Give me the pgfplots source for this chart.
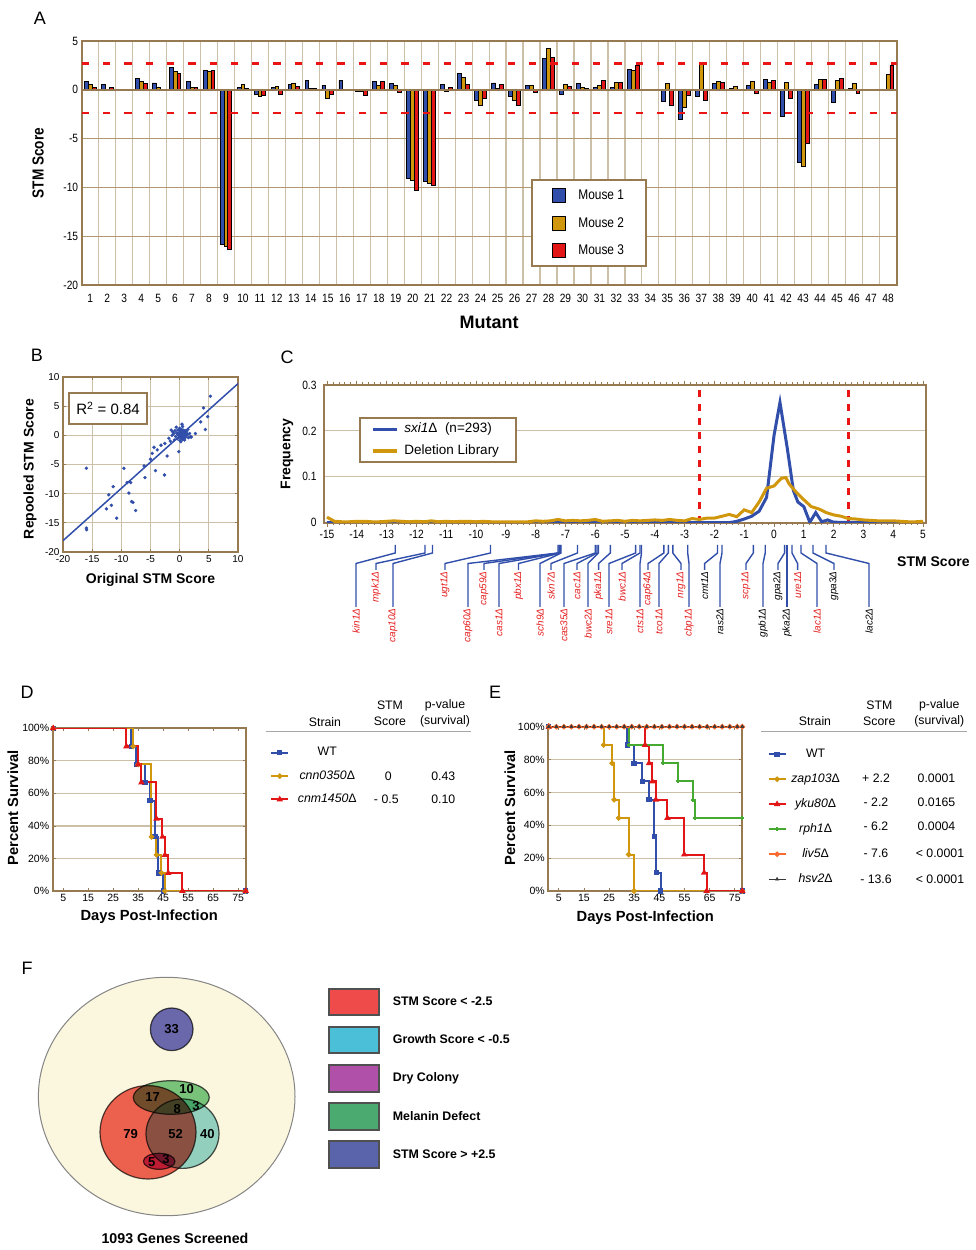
\documentclass[border=0pt]{standalone}
\usepackage{fontspec}
\setmainfont{Liberation Sans}
\newfontfamily\narrow[FakeStretch=0.85]{Liberation Sans}
\usepackage{pgfplots}
\usepackage{pgfplotstable}
\pgfplotsset{compat=1.18}

\newcommand\fs[1]{\fontsize{#1}{#1}\selectfont}

\definecolor{frameb}{RGB}{152,122,82}
\definecolor{gridt}{RGB}{205,192,168}
\definecolor{gridb}{RGB}{178,152,112}
\definecolor{mblue}{RGB}{48,78,170}
\definecolor{mgold}{RGB}{208,150,12}
\definecolor{mred}{RGB}{226,22,22}
\definecolor{dashred}{RGB}{235,20,20}
\definecolor{sgreen}{RGB}{70,170,50}
\definecolor{sorange}{RGB}{250,105,45}
\definecolor{sblack}{RGB}{55,55,55}
\definecolor{glred}{RGB}{228,30,30}
\definecolor{vcream}{RGB}{251,246,222}
\definecolor{vpurple}{RGB}{108,108,196}
\definecolor{vred}{RGB}{240,100,90}
\definecolor{vcyan}{RGB}{150,215,218}
\definecolor{vgreen}{RGB}{122,203,140}
\definecolor{vmag}{RGB}{205,75,165}
\definecolor{vedge}{RGB}{80,80,80}
\definecolor{legred}{RGB}{239,75,75}
\definecolor{legcyan}{RGB}{75,190,216}
\definecolor{legmag}{RGB}{176,80,168}
\definecolor{leggreen}{RGB}{74,170,112}
\definecolor{legpurple}{RGB}{90,100,170}

\pgfplotsset{
  panel/.style={scale only axis, anchor=north west,
    axis line style={frameb, line width=2pt},
    /pgf/number format/assume math mode=true,
    tick style={frameb, line width=0.8pt},
    grid style={gridt, line width=1.2pt}},
  barleg/.style={legend image code/.code={\draw[##1] (0pt,-7pt) rectangle (13.5pt,7pt);}},
}

% panel A: STM scores of 48 mutants in three mice
\pgfplotstableread{
m   a      b      c
1   0.85   0.50   0.27
2   0.50   0.05   0.20
3   0      0      0
4   1.13   0.85   0.60
5   0.70   0.27  -0.10
6   2.30   1.90   1.65
7   0.90   0.27   0.20
8   2.00   1.90   1.95
9  -15.8  -16.1  -16.4
10  0.27   0.50   0.15
11 -0.50  -0.70  -0.60
12  0.20   0.35  -0.45
13  0.55   0.70   0.37
14  1.00   0.17   0.17
15  0.45  -0.90  -0.50
16  1.00  -0.05  -0.10
17 -0.20  -0.20  -0.60
18  0.90   0.45   0.90
19  0.60   0.45  -0.25
20 -9.10  -9.30 -10.30
21 -9.40  -9.60  -9.80
22  0.50  -0.15   0.27
23  1.70   1.25   0.55
24 -1.10  -1.60  -0.85
25  0.70   0.17   0.50
26 -0.70  -1.10  -1.60
27  0.45   0.45  -0.25
28  3.25   4.20   3.35
29 -0.50   0.50   0.35
30  0.60   0.20   0.10
31  0.27   0.45   0.95
32  0.20   0.72   0.72
33  2.05   2.00   2.46
34  0      0      0
35 -1.16   0.60  -1.57
36 -3.05  -1.80  -0.55
37 -0.72   2.56  -1.13
38  0.68   0.89   0.79
39  0.10   0.38   0
40  0.44   0.89  -0.34
41  1.03   0.75   1.00
42 -2.77   0.79  -0.89
43 -7.45  -7.83  -5.50
44  0.58   1.06   1.09
45 -1.33   0.96   1.13
46  0.14   0.62  -0.38
47  0      0      0
48  0.07   1.54   2.53
}\stmA

% panel B: original vs repooled scores
\pgfplotstableread{
x y
5.27 6.7
4.1 4.7
4.8 3.2
3.6 2.3
4.4 1.0
2.7 0.3
1.85 -0.25
0.4 1.9
-0.15 -2.8
-2.15 -3.55
-2.6 -6.8
-4.4 -2.05
-3.85 -2.5
-3.2 -1.7
-2.55 -1.4
-1.85 -0.5
-1.6 -1.0
-1.3 0
-1.45 0.9
-4.7 -3.1
-5.0 -4.1
-6.1 -5.25
-5.95 -7.25
-4.15 -6.05
-9.55 -5.65
-9.0 -8.1
-8.4 -8.1
-8.7 -9.9
-8.25 -11.35
-8.0 -11.5
-7.55 -12.9
-11.4 -8.8
-12.15 -10.2
-11.7 -12.0
-12.55 -12.6
-10.8 -14.2
-16.0 -5.65
-16.0 -15.9
-15.95 -16.2
-1.2 0.6
-1.0 0.3
-0.8 0.8
-0.7 -0.2
-0.5 0.4
-0.4 -0.6
-0.3 0.9
-0.2 0.1
-0.1 -0.3
0 0.5
0 1.2
0.1 -0.1
0.15 0.7
0.2 0.2
0.25 -0.5
0.3 1.0
0.35 0.4
0.4 -0.2
0.45 0.6
0.5 0.1
0.55 -0.7
0.6 0.9
0.65 0.3
0.7 -0.3
0.75 0.5
0.8 0.0
0.9 0.8
0.95 -0.4
1.0 0.3
1.1 -0.1
1.2 0.6
1.3 0.1
1.5 -0.4
1.7 0.3
2.0 -0.3
0.05 -0.9
-0.6 1.4
0.5 1.5
-0.9 -0.8
1.4 1.0
0.2 -1.1
-0.1 0.0
0.3 -0.05
0.6 0.45
-0.35 0.25
0.85 -0.8
0.0 0.8
}\repool

% gene label with connector below panel C: top x, label x, end y, colour, name
\newcommand\gl[5]{%
  \draw[mblue, line width=1.4pt] (#1,545) -- (#1,553) -- (#2,563.5) -- (#2,#3);
  \node[rotate=90, anchor=east, font=\itshape\fs{10}, text=#4, inner sep=1.2pt] at (#2,#3) {#5Δ};}

\begin{document}
\begin{tikzpicture}

% ---------------- A ----------------
\begin{axis}[panel, at={(81.7pt,1209pt)}, width=814.8pt, height=244pt,
  xmin=0.5, xmax=48.5, ymin=-20, ymax=5,
  ybar=0pt, bar width=0.23,
  xtick={1,...,48}, ytick={-20,-15,...,5},
  minor xtick={1.5,2.5,...,47.5}, xminorgrids,
  minor x grid style={gridt, line width=1.2pt},
  ymajorgrids, y grid style={gridb, line width=1.3pt},
  major tick length=0pt, minor tick length=0pt,
  tick label style={font=\narrow\fs{12}},
  xticklabel style={yshift=-6pt},
  xlabel={Mutant}, ylabel={STM Score},
  xlabel style={font=\bfseries\fs{18}, at={(axis description cs:0.5,-0.1516)}, anchor=center},
  ylabel style={font=\narrow\bfseries\fs{16}, at={(axis description cs:-0.0536,0.5)}, anchor=center},
  legend style={at={(0.5514,0.4332)}, anchor=north west, draw=frameb, line width=2pt,
    fill=white, font=\narrow\fs{14}, row sep=12pt, column sep=10pt,
    inner xsep=20pt, inner ysep=8pt},
  legend image code/.code={\draw[#1] (0pt,-7pt) rectangle (13.5pt,7pt);},
]
\addplot[fill=mblue, draw=black, line width=0.9pt, barleg] table[x=m, y=a] {\stmA};
\addplot[fill=mgold, draw=black, line width=0.9pt, barleg] table[x=m, y=b] {\stmA};
\addplot[fill=mred, draw=black, line width=0.9pt, barleg] table[x=m, y=c] {\stmA};
\legend{Mouse 1, Mouse 2, Mouse 3}
\draw[frameb, line width=2pt] (axis cs:0.5,0) -- (axis cs:48.5,0);
\draw[dashred, line width=2.2pt, dash pattern=on 7.3pt off 14pt] (axis cs:0.5,2.7) -- (axis cs:48.5,2.7);
\draw[dashred, line width=2.2pt, dash pattern=on 7.3pt off 14pt] (axis cs:0.5,-2.4) -- (axis cs:48.5,-2.4);
\end{axis}

% ---------------- B ----------------
\begin{axis}[panel, at={(63pt,873pt)}, width=175pt, height=175pt,
  xmin=-20, xmax=10, ymin=-20, ymax=10,
  xtick={-20,-15,...,10}, ytick={-20,-15,...,10},
  grid=major, major tick length=3pt,
  tick label style={font=\fs{10}},
  xlabel={Original STM Score}, ylabel={Repooled STM Score},
  xlabel style={font=\bfseries\fs{14}, at={(axis description cs:0.5,-0.16)}, anchor=center},
  ylabel style={font=\bfseries\fs{14}, at={(axis description cs:-0.189,0.474)}, anchor=center},
]
\addplot[only marks, mark=*, mark size=1.5pt, mblue] table {\repool};
\addplot[mblue, line width=1.5pt] coordinates {(-20,-18.06) (10,8.86)};
\node[draw=frameb, line width=2pt, fill=white, minimum width=78pt, minimum height=31pt,
  anchor=north west, font=\fs{15}, inner sep=0pt] at (axis cs:-19.14,7.43) {R\textsuperscript{2} = 0.84};
\end{axis}

% ---------------- C ----------------
\begin{axis}[panel, at={(324pt,865pt)}, width=602pt, height=137.7pt,
  xmin=-15.1, xmax=5.1, ymin=0, ymax=0.3,
  xtick={-15,...,5}, ytick={0,0.1,0.2,0.3}, yticklabels={0,0.1,0.2,0.3},
  minor x tick num=4, tick align=outside, major tick length=4pt, minor tick length=2.5pt,
  ytick style={draw=none},
  ymajorgrids,
  tick label style={font=\narrow\fs{12}},
  ylabel={Frequency},
  ylabel style={font=\bfseries\fs{14}, at={(axis description cs:-0.0615,0.499)}, anchor=center},
  legend style={at={(0.0581,0.7676)}, anchor=north west, draw=frameb, line width=2pt,
    fill=white, font=\fs{13.5}, inner xsep=11pt, inner ysep=5pt, row sep=8.5pt,
    nodes={inner xsep=6pt, inner ysep=0pt, text height=10pt, text depth=3pt}},
  legend cell align=left,
  legend image code/.code={\draw[#1, line width=3.5pt] (0pt,0pt) -- (24pt,0pt);},
]
\draw[dashred, line width=2.2pt, dash pattern=on 7pt off 7pt] (axis cs:-2.5,0) -- (axis cs:-2.5,0.3);
\draw[dashred, line width=2.2pt, dash pattern=on 7pt off 7pt] (axis cs:2.5,0) -- (axis cs:2.5,0.3);
\addplot[mblue, line width=3pt] table {
x y
-15 0
-1.5 0
-1.25 0.003
-1 0.008
-0.75 0.014
-0.5 0.025
-0.25 0.055
0 0.19
0.2 0.262
0.45 0.16
0.65 0.07
0.8 0.045
1 0.035
1.2 0.001
1.4 0.022
1.6 0.002
1.8 0.006
2 0.001
5 0
};
\addlegendentry{\textit{sxi1}Δ\ \ (n=293)}
\addplot[mgold, line width=3pt] table {
x y
-15 0.012
-14.75 0.003
-14.5 0.002
-14.25 0.002
-14 0.003
-13.75 0.003
-13.5 0.002
-13.25 0.002
-13 0.003
-12.75 0.004
-12.5 0.003
-12.25 0.002
-12 0.003
-11.75 0.002
-11.5 0.004
-11.25 0.002
-11 0.003
-10.75 0.002
-10.5 0.003
-10.25 0.003
-10 0.002
-9.75 0.003
-9.5 0.002
-9.25 0.002
-9 0.002
-8.75 0.002
-8.5 0.002
-8.25 0.002
-8 0.004
-7.75 0.003
-7.5 0.004
-7.25 0.007
-7 0.004
-6.75 0.005
-6.5 0.004
-6.25 0.005
-6 0.007
-5.75 0.003
-5.5 0.004
-5.25 0.005
-5 0.003
-4.75 0.005
-4.5 0.004
-4.25 0.005
-4 0.006
-3.75 0.005
-3.5 0.007
-3.25 0.005
-3 0.004
-2.75 0.009
-2.5 0.007
-2.25 0.010
-2 0.010
-1.75 0.014
-1.5 0.018
-1.25 0.013
-1 0.028
-0.75 0.022
-0.5 0.045
-0.25 0.075
0 0.080
0.25 0.097
0.4 0.098
0.5 0.085
0.75 0.066
1 0.050
1.25 0.035
1.5 0.030
1.75 0.022
2 0.017
2.25 0.014
2.5 0.009
2.75 0.008
3 0.006
3.25 0.005
3.5 0.004
3.75 0.004
4 0.004
4.25 0.003
4.5 0.002
4.75 0.002
5 0.003
};
\addlegendentry{Deletion Library}
\end{axis}

% ---------------- D ----------------
\begin{axis}[panel, at={(52.7pt,521.7pt)}, width=193pt, height=162.7pt,
  xmin=0.8, xmax=78, ymin=0, ymax=100,
  xtick={5,15,...,75}, ytick={0,20,...,100},
  yticklabels={0\%,20\%,40\%,60\%,80\%,100\%},
  ymajorgrids, major tick length=3pt,
  tick label style={font=\fs{10.5}},
  xlabel={Days Post-Infection}, ylabel={Percent Survival},
  xlabel style={font=\bfseries\fs{14.7}, at={(axis description cs:0.5,-0.16)}, anchor=center},
  ylabel style={font=\bfseries\fs{14.7}, at={(axis description cs:-0.206,0.51)}, anchor=center},
  legend style={at={(1.126,0.887)}, anchor=north west, draw=none, fill=none,
    font=\fs{12.3}, inner sep=0pt, row sep=11.3pt,
    nodes={inner sep=0pt, text height=9pt, text depth=3pt}},
  legend cell align=left,
]
\addplot[const plot, mblue, line width=2pt, mark=square*, mark size=1.6pt] coordinates {
(1,100) (32.3,88.9) (34.3,77.8) (37.7,66.7) (39.7,55.6) (41.7,33.3) (43,11.1) (45,0) (78,0)};
\addlegendentry{\makebox[76pt][c]{WT}}
\addplot[const plot, mgold, line width=2pt, mark=*, mark size=1.6pt] coordinates {
(1,100) (33,88.9) (35,77.8) (40.3,33.3) (42.3,22.2) (44.3,11.1) (45.7,0) (78,0)};
\addlegendentry{\makebox[76pt][c]{\textit{cnn0350}Δ}}
\addplot[const plot, mred, line width=2pt, mark=triangle*, mark size=1.8pt] coordinates {
(1,100) (30.3,88.9) (35,77.8) (36.3,66.7) (42.3,44.4) (44.7,33.3) (45.7,22.2) (47,11.1) (52.7,0) (78,0)};
\addlegendentry{\makebox[76pt][c]{\textit{cnm1450}Δ}}
\end{axis}

% ---------------- E ----------------
\begin{axis}[panel, at={(548.3pt,523.3pt)}, width=194pt, height=164.3pt,
  xmin=0.8, xmax=78, ymin=0, ymax=100,
  xtick={5,15,...,75}, ytick={0,20,...,100},
  yticklabels={0\%,20\%,40\%,60\%,80\%,100\%},
  ymajorgrids, major tick length=3pt,
  tick label style={font=\fs{10.5}},
  xlabel={Days Post-Infection}, ylabel={Percent Survival},
  xlabel style={font=\bfseries\fs{14.7}, at={(axis description cs:0.5,-0.165)}, anchor=center},
  ylabel style={font=\bfseries\fs{14.7}, at={(axis description cs:-0.198,0.505)}, anchor=center},
  legend style={at={(1.129,0.870)}, anchor=north west, draw=none, fill=none,
    font=\fs{12.3}, inner sep=0pt, row sep=13pt,
    nodes={inner sep=0pt, text height=9pt, text depth=3pt}},
  legend cell align=left,
]
\addplot[const plot, mblue, line width=2pt, mark=square*, mark size=1.6pt] coordinates {
(1,100) (32.2,88.9) (34.9,77.8) (38.2,66.7) (40.9,55.6) (42.9,33.3) (43.8,11.1) (45.6,0) (78,0)};
\addlegendentry{\makebox[58pt][c]{WT}}
\addplot[const plot, mgold, line width=2pt, mark=*, mark size=1.6pt] coordinates {
(1,100) (22.8,88.9) (26.2,77.8) (27,55.6) (28.8,44.4) (32.8,22.2) (34.9,0) (78,0)};
\addlegendentry{\makebox[58pt][c]{\textit{zap103}Δ}}
\addplot[const plot, mred, line width=2pt, mark=triangle*, mark size=1.8pt] coordinates {
(1,100) (39.3,88.9) (40.9,77.8) (42.2,66.7) (43.6,55.6) (48.2,44.4) (54.9,22.2) (62.8,11.1) (63.8,0) (78,0)};
\addlegendentry{\makebox[58pt][c]{\textit{yku80}Δ}}
\addplot[const plot, sgreen, line width=2pt, mark=+, mark size=2pt] coordinates {
(1,100) (33.1,88.9) (46.6,77.8) (52.3,66.7) (58.3,55.6) (59,44.4) (78,44.4)};
\addlegendentry{\makebox[58pt][c]{\textit{rph1}Δ}}
\addplot[const plot, sorange, line width=2pt, mark=*, mark size=1.6pt] coordinates {
(1,100) (4,100) (7,100) (10,100) (13,100) (16,100) (19,100) (22,100) (25,100) (28,100)
(31,100) (34,100) (37,100) (40,100) (43,100) (46,100) (49,100) (52,100) (55,100)
(58,100) (61,100) (64,100) (67,100) (70,100) (73,100) (76,100) (78,100)};
\addlegendentry{\makebox[58pt][c]{\textit{liv5}Δ}}
\addplot[const plot, sblack, line width=0.6pt, mark=triangle*, mark size=1.8pt] coordinates {
(1,100) (4,100) (7,100) (10,100) (13,100) (16,100) (19,100) (22,100) (25,100) (28,100)
(31,100) (34,100) (37,100) (40,100) (43,100) (46,100) (49,100) (52,100) (55,100)
(58,100) (61,100) (64,100) (67,100) (70,100) (73,100) (76,100) (78,100)};
\addlegendentry{\makebox[58pt][c]{\textit{hsv2}Δ}}
\end{axis}

% ---------------- F ----------------
\begin{axis}[at={(0pt,310pt)}, anchor=north west, scale only axis, width=975pt, height=310pt,
  xmin=0, xmax=975, ymin=940, ymax=1250, y dir=reverse, hide axis, clip=false,
  legend style={at={(0.3367,0.8474)}, anchor=north west, draw=none, fill=none,
    font=\bfseries\fs{12.4}, inner sep=0pt, row sep=9.6pt,
    nodes={inner xsep=12.7pt, inner ysep=0pt}},
  legend cell align=left,
  legend image code/.code={\draw[#1] (0pt,-13.3pt) rectangle (49.7pt,13.3pt);},
]
\addlegendimage{fill=legred, draw=vedge, line width=2pt}
\addlegendentry{STM Score < -2.5}
\addlegendimage{fill=legcyan, draw=vedge, line width=2pt}
\addlegendentry{Growth Score < -0.5}
\addlegendimage{fill=legmag, draw=vedge, line width=2pt}
\addlegendentry{Dry Colony}
\addlegendimage{fill=leggreen, draw=vedge, line width=2pt}
\addlegendentry{Melanin Defect}
\addlegendimage{fill=legpurple, draw=vedge, line width=2pt}
\addlegendentry{STM Score > +2.5}
\draw[vedge!70, line width=1pt, fill=vcream] (axis cs:166.7,1096.5) ellipse [x radius=128.3, y radius=119.2];
\draw[vedge, line width=1.2pt, fill=vpurple, blend mode=multiply] (axis cs:171.7,1029.3) ellipse [x radius=21.3, y radius=21.3];
\draw[vedge, line width=1.2pt, fill=vred, blend mode=multiply] (axis cs:148,1132.3) ellipse [x radius=48, y radius=46.7];
\draw[vedge, line width=1.2pt, fill=vcyan, blend mode=multiply] (axis cs:182.5,1133.7) ellipse [x radius=36.5, y radius=34.7];
\draw[vedge, line width=1.2pt, fill=vgreen, blend mode=multiply] (axis cs:171.3,1097.5) ellipse [x radius=38, y radius=16.8];
\draw[vedge, line width=1.2pt, fill=vmag, blend mode=multiply] (axis cs:159.2,1161.3) ellipse [x radius=15.8, y radius=8];
\begin{scope}[font=\bfseries\fs{13}]
\node at (axis cs:171.5,1029.5) {33};
\node at (axis cs:186.7,1089.3) {10};
\node at (axis cs:152.7,1097.3) {17};
\node at (axis cs:177.3,1109.3) {8};
\node at (axis cs:196,1106) {3};
\node at (axis cs:130.7,1134.3) {79};
\node at (axis cs:175.7,1134.3) {52};
\node at (axis cs:207.3,1134.3) {40};
\node at (axis cs:151.7,1161.7) {5};
\node at (axis cs:166,1159.3) {3};
\end{scope}
\end{axis}

% ---------------- annotations in pixel coordinates ----------------
\begin{scope}[x=1pt, y=-1pt, yshift=1250pt]
\node[font=\fs{18}] at (40,18) {A};
\node[font=\fs{18}] at (37,355) {B};
\node[font=\fs{18}] at (287,357) {C};
\node[font=\fs{18}] at (27,692) {D};
\node[font=\fs{18}] at (495,692) {E};
\node[font=\fs{18}] at (27,968) {F};

\node[font=\bfseries\fs{14}, anchor=west, inner sep=0pt] at (897,562) {STM Score};
\gl{395.2}{356}{607}{glred}{kin1}
\gl{425}{376}{570}{glred}{mpk1}
\gl{432.5}{393}{607}{glred}{cap10}
\gl{490.5}{445}{570}{glred}{ugt1}
\gl{558}{468}{607}{glred}{cap60}
\gl{559}{484}{570}{glred}{cap59}
\gl{559.6}{499}{607}{glred}{cas1}
\gl{560.5}{518.5}{570}{glred}{pbx1}
\gl{561}{540}{607}{glred}{sch9}
\gl{577.5}{551}{570}{glred}{skn7}
\gl{595.4}{564}{607}{glred}{cas35}
\gl{597}{577}{570}{glred}{cac1}
\gl{598.4}{588}{607}{glred}{bwc2}
\gl{610.3}{598.6}{570}{glred}{pka1}
\gl{635.6}{609}{607}{glred}{sre1}
\gl{640}{622}{570}{glred}{bwc1}
\gl{641.5}{640}{607}{glred}{cts1}
\gl{663.9}{648}{570}{glred}{cap64}
\gl{668.3}{659}{607}{glred}{tco1}
\gl{672.8}{681}{570}{glred}{nrg1}
\gl{687.7}{689}{607}{glred}{cbp1}
\gl{717.5}{704.6}{570}{black}{cmt1}
\gl{722}{720}{607}{black}{ras2}
\gl{753.3}{746}{570}{glred}{scp1}
\gl{765.2}{763}{607}{black}{gpb1}
\gl{784.6}{778}{570}{black}{gpa2}
\gl{787}{787}{607}{black}{pka2}
\gl{792}{797.6}{570}{glred}{ure1}
\gl{801}{817}{607}{glred}{lac1}
\gl{813}{834}{570}{black}{gpa3}
\gl{826}{869}{607}{black}{lac2}

% D table
\begin{scope}[font=\fs{12.3}]
\node at (325,721.7) {Strain};
\node at (390,705) {STM};
\node at (390,721.7) {Score};
\node at (445,705) {p-value};
\node at (445,721.7) {(survival)};
\node at (388.3,776.7) {0};
\node at (386.3,799.3) {- 0.5};
\node at (443.3,776.7) {0.43};
\node at (443.3,799.3) {0.10};
\end{scope}
\draw[gray!70, line width=1pt] (265.7,731.7) -- (470.7,731.7);

% E table
\begin{scope}[font=\fs{12.3}]
\node at (815,720.7) {Strain};
\node at (879.3,705) {STM};
\node at (879.3,721) {Score};
\node at (939.3,705) {p-value};
\node at (939.3,721) {(survival)};
\node at (876,778.3) {+ 2.2};
\node at (876,802.7) {- 2.2};
\node at (876,826.7) {- 6.2};
\node at (876,853.3) {- 7.6};
\node at (876,879.3) {- 13.6};
\node at (936.5,778.3) {0.0001};
\node at (936.5,802.7) {0.0165};
\node at (936.5,826.7) {0.0004};
\node at (940,853.3) {< 0.0001};
\node at (940,879.3) {< 0.0001};
\end{scope}
\draw[gray!70, line width=1pt] (761,731.7) -- (967.3,731.7);

\node[font=\bfseries\fs{14.2}] at (175,1238.3) {1093 Genes Screened};
\end{scope}

\pgfresetboundingbox
\path[use as bounding box] (0,0) rectangle (975pt,1250pt);
\end{tikzpicture}
\end{document}
